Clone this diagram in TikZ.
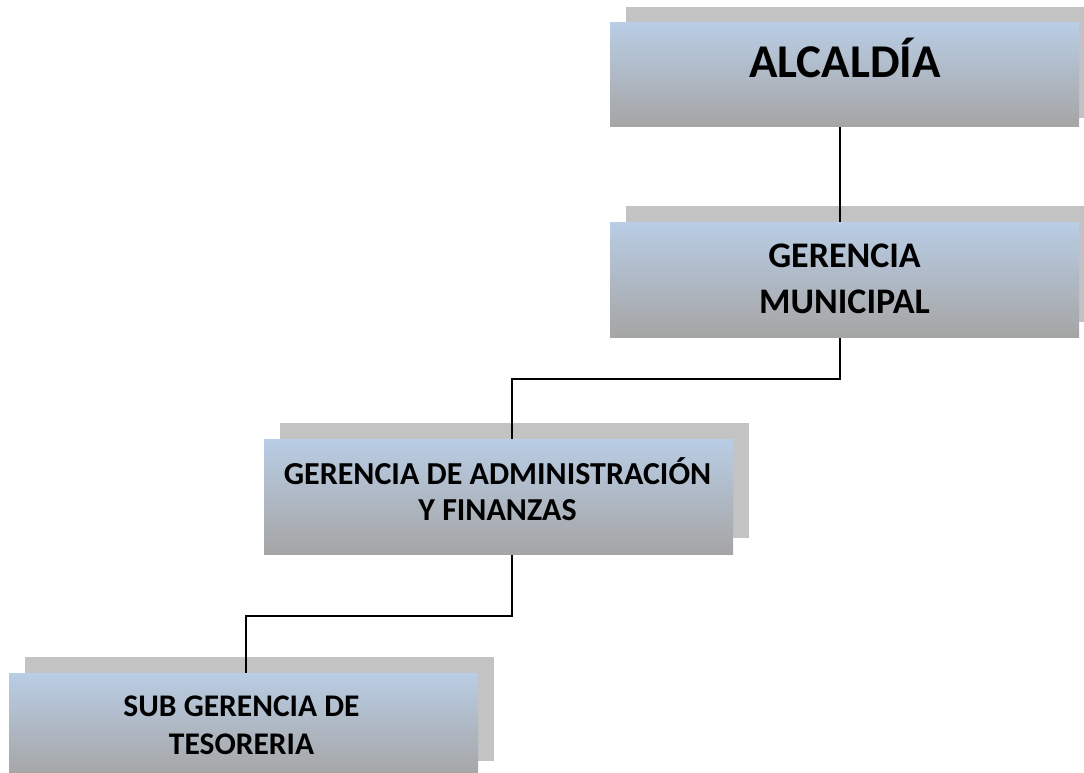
\documentclass[tikz,border=0pt]{standalone}
\usepackage{fontspec}
\setmainfont{Carlito}
\definecolor{boxtop}{RGB}{185,205,229}
\definecolor{boxbot}{RGB}{165,165,165}
\definecolor{shad}{RGB}{195,195,195}
\pgfdeclarelayer{shadowlayer}
\pgfdeclarelayer{connlayer}
\pgfsetlayers{shadowlayer,connlayer,main}
\begin{document}
\begin{tikzpicture}[x=1pt,y=-1pt,
  orgbox/.style={rectangle, inner sep=0pt, top color=boxtop, bottom color=boxbot, draw=none, minimum width=469pt},
  orgtext/.style={font=\bfseries, align=center, inner sep=0pt, text=black},
  conn/.style={line width=1.8pt, black},
  shadowfill/.style={fill=shad}]
\useasboundingbox (0,0) rectangle (1084,773);
% boxes
\node[orgbox, minimum height=104pt] (alc) at (844.5,75) {};
\node[orgbox, minimum height=115pt] (gm) at (844.5,279.5) {};
\node[orgbox, minimum height=115pt] (gaf) at (498.5,496.5) {};
\node[orgbox, minimum height=104pt] (sgt) at (243.5,725) {};
% texts
\node[orgtext, anchor=base, font=\bfseries\fontsize{47}{56}\selectfont] (alct) at (845,78) {ALCALDÍA};
\node[orgtext, font=\bfseries\fontsize{36}{46}\selectfont] (gmt) at (844.5,279) {GERENCIA\\MUNICIPAL};
\node[orgtext, font=\bfseries\fontsize{32}{36}\selectfont] (gaft) at (497.5,489) {GERENCIA DE ADMINISTRACIÓN\\Y FINANZAS};
\node[orgtext, font=\bfseries\fontsize{31.5}{38}\selectfont] (sgtt) at (241.5,725) {SUB GERENCIA DE\\TESORERIA};
% shadows
\begin{pgfonlayer}{shadowlayer}
\fill[shadowfill] ([shift={(16,-16)}]alc.north west) rectangle ([shift={(16,-9)}]alc.south east);
\fill[shadowfill] ([shift={(16,-16)}]gm.north west) rectangle ([shift={(16,-15)}]gm.south east);
\fill[shadowfill] ([shift={(16,-16)}]gaf.north west) rectangle ([shift={(16,-16)}]gaf.south east);
\fill[shadowfill] ([shift={(16,-16)}]sgt.north west) rectangle ([shift={(16,-16)}]sgt.south east);
\end{pgfonlayer}
% connectors
\begin{pgfonlayer}{connlayer}
\draw[conn] ([xshift=-4.5pt]alc.south) -- ([xshift=-4.5pt]gm.north);
\draw[conn] ([xshift=-4.5pt]gm.south) -- ++(0,42) -| ([xshift=13.5pt]gaf.north);
\draw[conn] ([xshift=13.5pt]gaf.south) -- ++(0,62) -| ([xshift=2.5pt]sgt.north);
\end{pgfonlayer}
\end{tikzpicture}
\end{document}
